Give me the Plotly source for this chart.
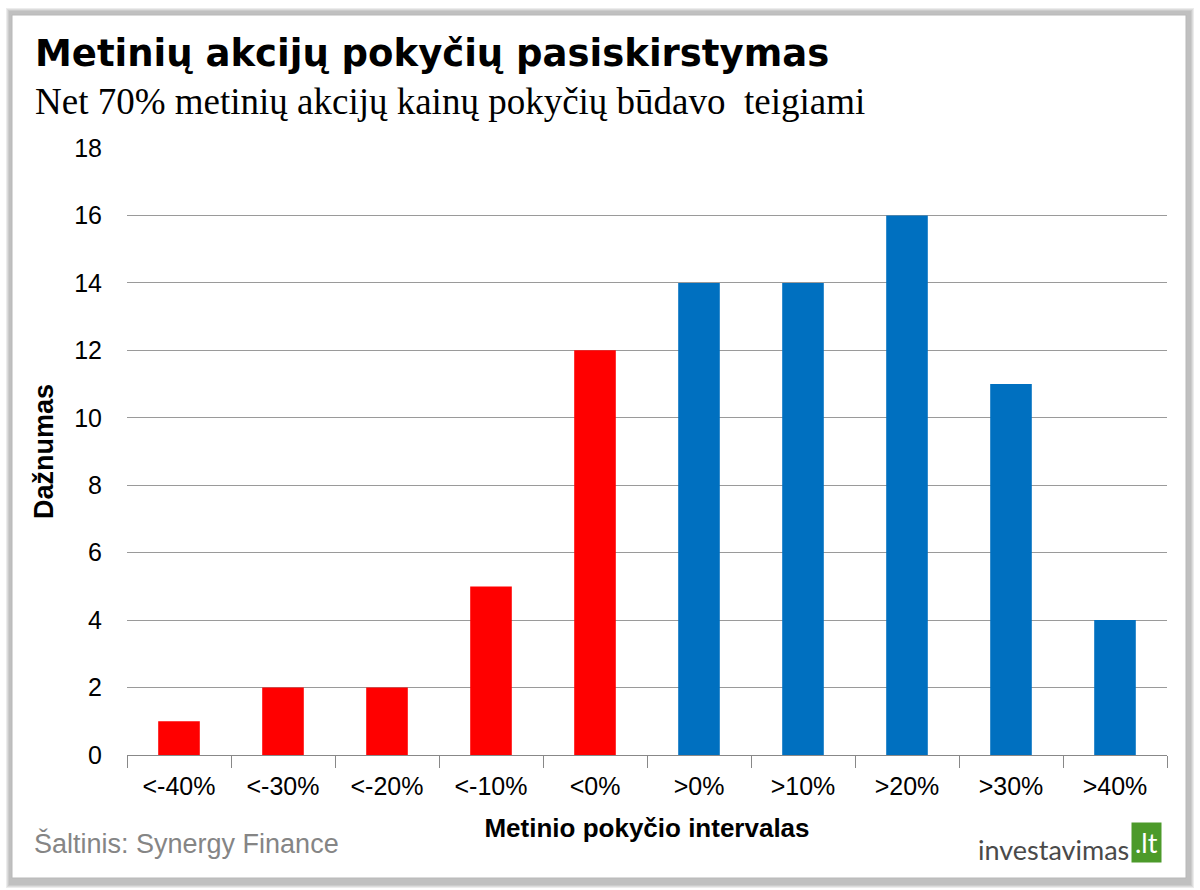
import plotly.graph_objects as go

categories = ["<-40%", "<-30%", "<-20%", "<-10%", "<0%", ">0%", ">10%", ">20%", ">30%", ">40%"]
values = [1, 2, 2, 5, 12, 14, 14, 16, 11, 4]
colors = ["#FF0000"] * 5 + ["#0070C0"] * 5
y_ticks = [0, 2, 4, 6, 8, 10, 12, 14, 16, 18]

W, H = 1200, 890
L, R, T, B = 127, 33, 148, 135
pw, ph = W - L - R, H - T - B

def px(x):
    return (x - L) / pw

def py(y):
    return (H - B - y) / ph

fig = go.Figure(go.Bar(x=categories, y=values, marker=dict(color=colors, line=dict(width=0)), hoverinfo="x+y"))

shapes = []
# shadow & panel
for i, c in enumerate(["#ececec", "#dcdcdc", "#cccccc", "#c0c0c0"]):
    shapes.append(dict(type="rect", xref="paper", yref="paper", layer="below",
                       x0=px(6 + i), x1=px(1194 - i), y0=py(8 + i), y1=py(888 - i),
                       fillcolor=c, line=dict(width=0)))
shapes.append(dict(type="rect", xref="paper", yref="paper", layer="below",
                   x0=px(12), x1=px(1186), y0=py(15), y1=py(878),
                   fillcolor="white", line=dict(color="#b8b8b8", width=1)))

annotations = [
    dict(text="<b>Metinių akcijų pokyčių pasiskirstymas</b>", x=px(33), y=py(54), xref="paper", yref="paper",
         xanchor="left", yanchor="middle", showarrow=False,
         font=dict(family="DejaVu Sans", size=37, color="black")),
    dict(text="Net 70% metinių akcijų kainų pokyčių būdavo  teigiami", x=px(33), y=py(101), xref="paper", yref="paper",
         xanchor="left", yanchor="middle", showarrow=False,
         font=dict(family="Liberation Serif, Times New Roman", size=37, color="black")),
    dict(text="Šaltinis: Synergy Finance", x=px(32), y=py(843), xref="paper", yref="paper",
         xanchor="left", yanchor="middle", showarrow=False,
         font=dict(family="Liberation Sans, Arial", size=27, color="#858585")),
    dict(text="investavimas", x=px(1131), y=py(849), xref="paper", yref="paper",
         xanchor="right", yanchor="middle", showarrow=False,
         font=dict(family="Lato, Open Sans", size=27, color="#4a4a4a")),
    dict(text=".lt", x=px(1131), y=py(842), xref="paper", yref="paper",
         xanchor="left", yanchor="middle", showarrow=False, bgcolor="#4c9a2a", borderpad=3,
         font=dict(family="Lato, Open Sans", size=27, color="white")),
]

fig.update_layout(
    width=W, height=H,
    margin=dict(l=L, r=R, t=T, b=B),
    paper_bgcolor="white", plot_bgcolor="rgba(0,0,0,0)",
    bargap=0.6, showlegend=False,
    shapes=shapes, annotations=annotations,
    xaxis=dict(
        type="category", tickson="boundaries", ticks="outside", ticklen=12, tickcolor="#888888",
        showline=True, linecolor="#888888", linewidth=1, ticklabelstandoff=9,
        tickfont=dict(family="Liberation Sans, Arial", size=25, color="black"),
        title=dict(text="<b>Metinio pokyčio intervalas</b>", standoff=19,
                   font=dict(family="Liberation Sans, Arial", size=26, color="black")),
    ),
    yaxis=dict(
        range=[0, 18], tickvals=y_ticks, showgrid=True, gridcolor="#9a9a9a", gridwidth=1,
        zeroline=False, showline=False, ticks="", ticklabelstandoff=24,
        tickfont=dict(family="Liberation Sans, Arial", size=25, color="black"),
        title=dict(text="<b>Dažnumas</b>", standoff=12,
                   font=dict(family="Liberation Sans, Arial", size=27, color="black")),
    ),
)

fig.write_html("out.html")
